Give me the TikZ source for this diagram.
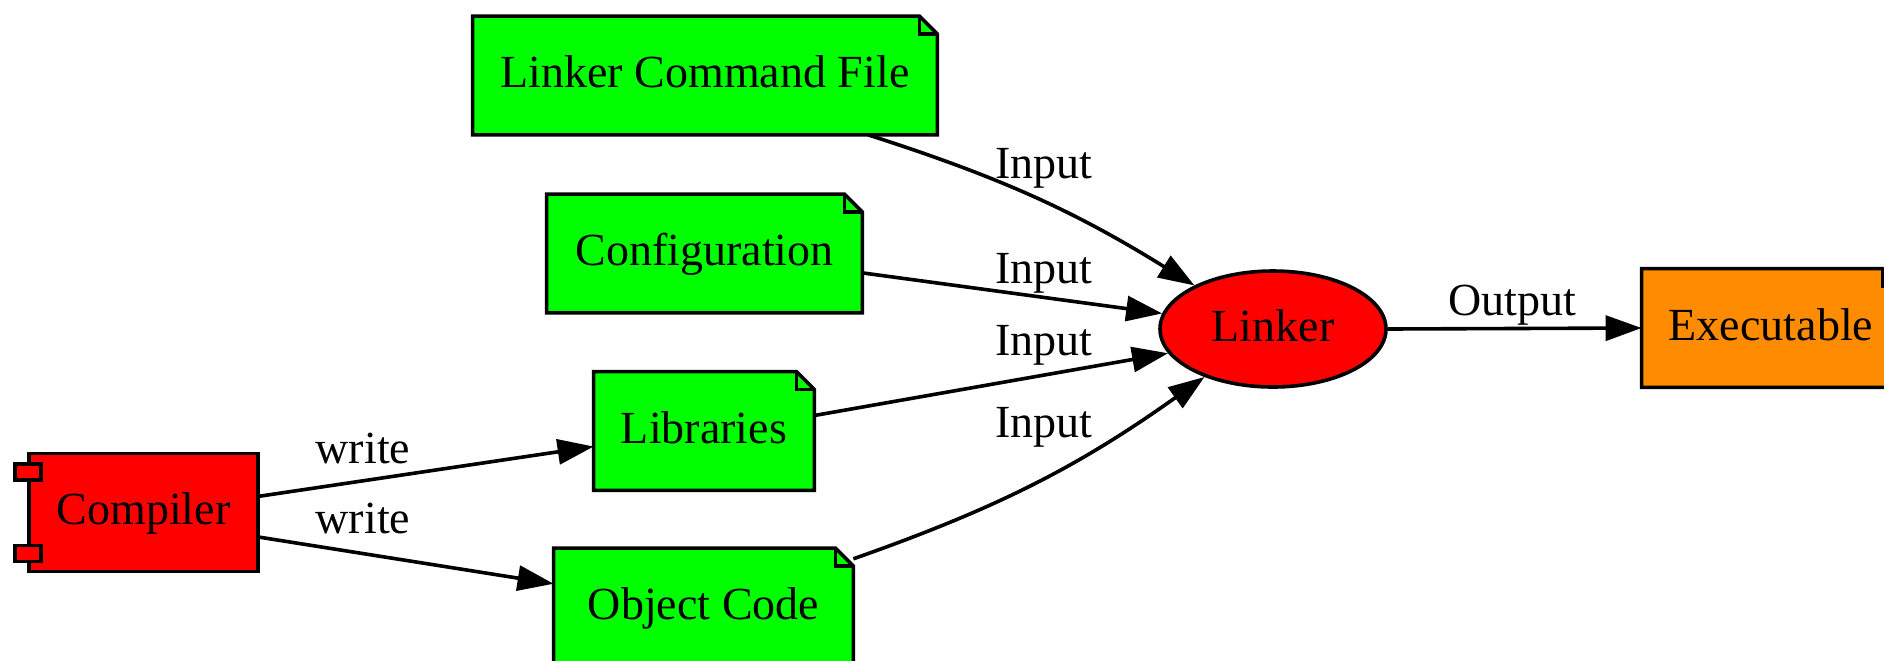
\documentclass[tikz,border=0pt]{standalone}
\usepackage{fontspec}
\setmainfont{Liberation Serif}
\usetikzlibrary{arrows.meta, shapes.geometric, backgrounds, positioning}
\definecolor{gvgreen}{RGB}{0,255,0}
\definecolor{gvred}{RGB}{255,0,0}
\definecolor{gvorange}{RGB}{255,140,0}
\tikzset{
  txt/.style={font=\fontsize{23}{27}\selectfont, inner sep=0pt},
  box/.style={txt, minimum height=59pt, text height=17pt, text depth=5pt},
  comp/.style={box, draw, fill=gvred, line width=1.8pt},
  note/.style={box},
  oval/.style={txt, ellipse, draw, fill=gvred, line width=1.8pt, text height=17pt, text depth=5pt},
  lbl/.style={txt, anchor=base},
  wire/.style={->, line width=1.8pt},
}
\begin{document}
\begin{tikzpicture}[x=0.5pt, y=-0.5pt, >={Triangle[length=18pt, width=12.5pt]}]
\useasboundingbox (0, 0) rectangle (1884, 660);
\node [comp, minimum width=114.5pt] (compiler) at (143.5, 512.5) {Compiler};
\node [note, minimum width=232pt] (lcf) at (705, 75.5) {Linker Command File};
\node [note, minimum width=157.5pt] (conf) at (704.5, 253.5) {Configuration};
\node [note, minimum width=110pt] (libs) at (704, 431) {Libraries};
\node [note, minimum width=149.5pt] (obj) at (703.5, 607.5) {Object Code};
\node [oval, minimum width=113pt, minimum height=58pt] (linker) at (1273, 329) {Linker};
\node [note, minimum width=129pt] (exe) at (1771, 328) {Executable};
\begin{scope}[on background layer]
\foreach \n/\c in {lcf/gvgreen, conf/gvgreen, libs/gvgreen, obj/gvgreen, exe/gvorange} {
  \filldraw [fill=\c, line width=1.8pt] (\n.north west) -- ([xshift=-9pt]\n.north east) -- ([yshift=-9pt]\n.north east) -- (\n.south east) -- (\n.south west) -- cycle;
  \draw [line width=1.8pt] ([xshift=-9pt]\n.north east) |- ([yshift=-9pt]\n.north east);
}
\end{scope}
\foreach \a/\s in {north west/-14pt, south west/6pt} \filldraw [fill=gvred, line width=1.8pt] ([xshift=-6pt, yshift=\s]compiler.\a) rectangle ++(13pt, 8pt);
\draw [wire] (lcf.-20) to[bend left=7] (linker.151);
\draw [wire] (conf.-7) -- (linker.172);
\draw [wire] (libs.8) -- (linker.193);
\draw [wire] (obj.18) to[bend right=8] (linker.215);
\draw [wire] (compiler.8) -- (libs.188);
\draw [wire] (compiler.-12) -- (obj.171);
\draw [wire] (linker.east) -- (exe.west);
\node [lbl] (in1) at (1044, 178) {Input};
\node [lbl] (in2) at (1044, 283) {Input};
\node [lbl] (in3) at (1044, 355) {Input};
\node [lbl] (in4) at (1044, 437) {Input};
\node [lbl] (wr1) at (363, 463) {write};
\node [lbl] (wr2) at (363, 533) {write};
\node [lbl] (out) at (1512, 315) {Output};
\end{tikzpicture}
\end{document}
